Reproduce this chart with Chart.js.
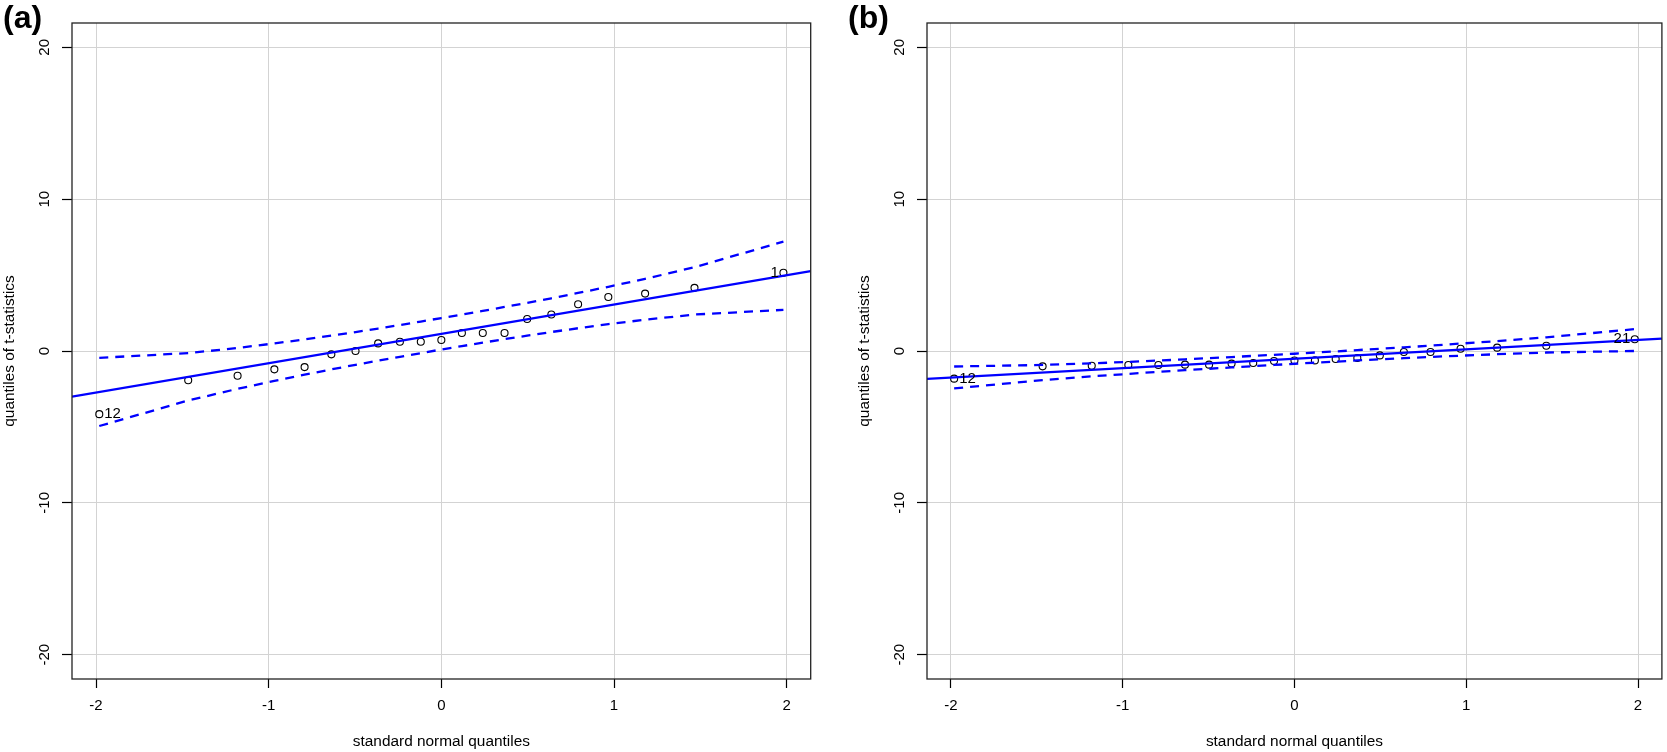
<!DOCTYPE html>
<html>
<head>
<meta charset="utf-8">
<script src="https://cdn.jsdelivr.net/npm/chart.js@4"></script>
<style>
  html, body { margin: 0; padding: 0; background: #fff; }
  body { width: 1667px; height: 752px; position: relative; overflow: hidden; }
  canvas { position: absolute; top: 0; }
</style>
</head>
<body>
<canvas id="ca" width="834" height="752" style="left:0px"></canvas>
<canvas id="cb" width="833" height="752" style="left:834px"></canvas>
<script>
// ---- data ----
const zQuantiles = [-1.981,-1.466,-1.180,-0.967,-0.792,-0.637,-0.497,-0.366,-0.240,-0.119,0,0.119,0.240,0.366,0.497,0.637,0.792,0.967,1.180,1.466,1.981];

const tStatsA = [-4.16,-1.93,-1.63,-1.21,-1.06,-0.22,0.00,0.50,0.61,0.61,0.72,1.19,1.19,1.19,2.11,2.40,3.08,3.56,3.78,4.16,5.15];
const upperA  = [-0.45,-0.14,0.20,0.50,0.76,1.02,1.25,1.48,1.71,1.94,2.17,2.40,2.64,2.90,3.17,3.47,3.82,4.23,4.75,5.52,7.20];
const lowerA  = [-4.94,-3.26,-2.49,-1.97,-1.56,-1.21,-0.91,-0.64,-0.38,-0.14,0.10,0.32,0.55,0.78,1.01,1.25,1.50,1.77,2.06,2.40,2.71];
const fitXA = [-2.139, 2.139];
const fitYA = [-3.00, 5.26];
const idsA = [{index: 0, text: "12", side: "right"}, {index: 20, text: "1", side: "left"}];

const tStatsB = [-1.82,-1.01,-0.97,-0.92,-0.92,-0.90,-0.90,-0.83,-0.79,-0.66,-0.63,-0.62,-0.53,-0.46,-0.29,-0.07,-0.07,0.15,0.22,0.35,0.77];
const upperB  = [-1.02,-0.92,-0.81,-0.72,-0.63,-0.55,-0.47,-0.40,-0.32,-0.25,-0.18,-0.10,-0.03,0.06,0.15,0.24,0.35,0.49,0.65,0.90,1.44];
const lowerB  = [-2.46,-1.92,-1.67,-1.51,-1.37,-1.26,-1.17,-1.08,-1.00,-0.92,-0.84,-0.77,-0.70,-0.62,-0.55,-0.47,-0.39,-0.31,-0.21,-0.10,0.00];
const fitXB = [-2.139, 2.139];
const fitYB = [-1.84, 0.82];
const idsB = [{index: 0, text: "12", side: "right"}, {index: 20, text: "21", side: "left"}];

const xTicks = [-2, -1, 0, 1, 2];
const yTicks = [-20, -10, 0, 10, 20];
const xRange = [-2.139, 2.139];
const yRange = [-21.6, 21.6];

const xTitle = "standard normal quantiles";
const yTitle = "quantiles of t-statistics";

// ---- helpers ----
const FONT = "'Liberation Sans', Arial, Helvetica, sans-serif";
const pts = (xs, ys) => xs.map((x, i) => ({x: x, y: ys[i]}));

const decorPlugin = {
  id: 'decor',
  afterDraw(chart, args, opts) {
    const {ctx, chartArea: ca, scales} = chart;
    ctx.save();
    // box
    ctx.strokeStyle = '#222';
    ctx.lineWidth = 1.3;
    ctx.strokeRect(ca.left, ca.top, ca.right - ca.left, ca.bottom - ca.top);
    // rotated y tick labels
    ctx.fillStyle = '#000';
    ctx.font = '15px ' + FONT;
    ctx.textAlign = 'center';
    ctx.textBaseline = 'middle';
    scales.y.ticks.forEach(t => {
      const py = scales.y.getPixelForValue(t.value);
      ctx.save();
      ctx.translate(ca.left - 27, py);
      ctx.rotate(-Math.PI / 2);
      ctx.fillText(String(t.value), 0, 0);
      ctx.restore();
    });
    // point id labels
    const ds = chart.data.datasets[opts.pointDataset];
    opts.ids.forEach(id => {
      const p = ds.data[id.index];
      const px = scales.x.getPixelForValue(p.x);
      const py = scales.y.getPixelForValue(p.y);
      ctx.textBaseline = 'middle';
      if (id.side === 'right') {
        ctx.textAlign = 'left';
        ctx.fillText(id.text, px + 5, py);
      } else {
        ctx.textAlign = 'right';
        ctx.fillText(id.text, px - 4.5, py);
      }
    });
    // panel tag
    ctx.font = 'bold 32px ' + FONT;
    ctx.textAlign = 'left';
    ctx.textBaseline = 'alphabetic';
    ctx.fillText(opts.tag, opts.tagX, 28);
    ctx.restore();
  }
};

function makeChart(id, tStats, upper, lower, fitX, fitY, ids, tag, tagX, padLeft, padRight) {
  const ctx = document.getElementById(id).getContext('2d');
  return new Chart(ctx, {
    type: 'scatter',
    data: {
      datasets: [
        {
          label: 'fit', data: pts(fitX, fitY), showLine: true,
          borderColor: '#0000ff', borderWidth: 2.3, pointRadius: 0, fill: false, tension: 0
        },
        {
          label: 'upper', data: pts(zQuantiles, upper), showLine: true,
          borderColor: '#0000ff', borderWidth: 2.3, borderDash: [9, 7], pointRadius: 0, fill: false, tension: 0
        },
        {
          label: 'lower', data: pts(zQuantiles, lower), showLine: true,
          borderColor: '#0000ff', borderWidth: 2.3, borderDash: [9, 7], pointRadius: 0, fill: false, tension: 0
        },
        {
          label: 't', data: pts(zQuantiles, tStats), showLine: false,
          pointStyle: 'circle', pointRadius: 3.5, pointBorderWidth: 1.1,
          pointBorderColor: '#000', pointBackgroundColor: 'rgba(0,0,0,0)'
        }
      ]
    },
    options: {
      responsive: false,
      animation: false,
      devicePixelRatio: 1,
      events: [],
      layout: { padding: { left: padLeft, right: padRight, top: 23, bottom: 0 } },
      plugins: {
        legend: { display: false },
        tooltip: { enabled: false },
        decor: { pointDataset: 3, ids: ids, tag: tag, tagX: tagX }
      },
      scales: {
        x: {
          type: 'linear', min: xRange[0], max: xRange[1],
          afterBuildTicks: s => { s.ticks = xTicks.map(v => ({value: v})); },
          afterFit: s => { s.height = 73; },
          grid: { color: '#d3d3d3', lineWidth: 1, drawTicks: true, tickLength: 9, tickColor: '#000', tickWidth: 1.2 },
          border: { display: false },
          ticks: { color: '#000', font: { family: FONT, size: 15 }, padding: 9, maxRotation: 0, minRotation: 0 },
          title: { display: true, text: xTitle, color: '#000', font: { family: FONT, size: 15.4 }, padding: { top: 0, bottom: 1 } }
        },
        y: {
          type: 'linear', min: yRange[0], max: yRange[1],
          afterBuildTicks: s => { s.ticks = yTicks.map(v => ({value: v})); },
          afterFit: s => { s.width = 72; },
          grid: { color: '#d3d3d3', lineWidth: 1, drawTicks: true, tickLength: 10, tickColor: '#000', tickWidth: 1.2 },
          border: { display: false },
          ticks: { display: false },
          title: { display: true, text: yTitle, color: '#000', font: { family: FONT, size: 15.4 }, padding: { top: 1, bottom: 0 } }
        }
      }
    },
    plugins: [decorPlugin]
  });
}

makeChart('ca', tStatsA, upperA, lowerA, fitXA, fitYA, idsA, '(a)', 3, 0, 23.3);
makeChart('cb', tStatsB, upperB, lowerB, fitXB, fitYB, idsB, '(b)', 14, 21, 1);
</script>
</body>
</html>
